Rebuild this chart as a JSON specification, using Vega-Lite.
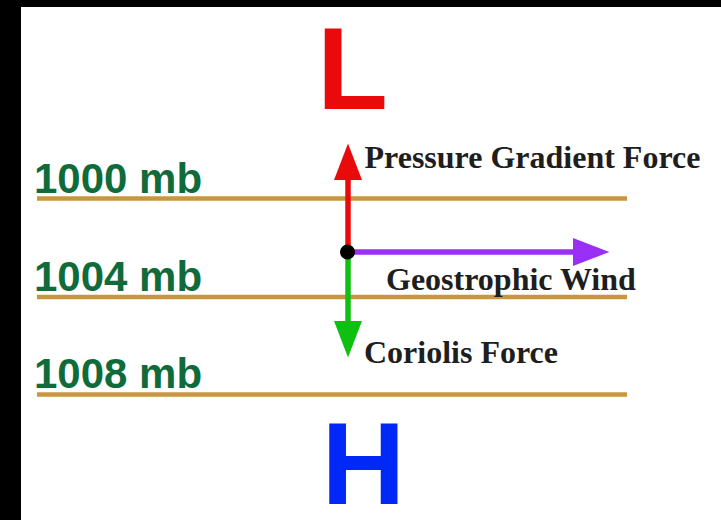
{
  "$schema": "https://vega.github.io/schema/vega-lite/v6.json",
  "autosize": {"type": "none"},
  "width": 700,
  "height": 513,
  "padding": {"left": 21, "top": 7, "right": 0, "bottom": 0},
  "background": "#000000",
  "config": {"view": {"fill": "#ffffff", "stroke": null}},
  "resolve": {"scale": {"color": "independent"}},
  "datasets": {
    "isobars": [
      {"pressure": "1000 mb", "x": 37, "x2": 627, "y": 198.5, "labelX": 34, "labelY": 192.5},
      {"pressure": "1004 mb", "x": 37, "x2": 627, "y": 297, "labelX": 34, "labelY": 290.5},
      {"pressure": "1008 mb", "x": 37, "x2": 627, "y": 394.5, "labelX": 34, "labelY": 388}
    ],
    "centers": [
      {"kind": "low", "text": "L", "x": 317, "y": 109},
      {"kind": "high", "text": "H", "x": 321.5, "y": 504}
    ],
    "forces": [
      {"force": "Pressure Gradient Force", "x": 348, "y": 252, "x2": 348, "y2": 180, "headX": 348, "headY": 180, "direction": 0, "labelX": 364.5, "labelY": 168},
      {"force": "Geostrophic Wind", "x": 348, "y": 252, "x2": 573, "y2": 252, "headX": 573, "headY": 252, "direction": 90, "labelX": 386, "labelY": 290},
      {"force": "Coriolis Force", "x": 348, "y": 252, "x2": 348, "y2": 321, "headX": 348, "headY": 321, "direction": 180, "labelX": 364, "labelY": 363}
    ],
    "parcel": [{"x": 347.5, "y": 252}]
  },
  "layer": [
    {
      "data": {"name": "isobars"},
      "mark": {"type": "rule", "color": "#c8963c", "strokeWidth": 4.5},
      "encoding": {
        "x": {"field": "x", "type": "quantitative", "scale": {"domain": [21, 721], "nice": false, "zero": false}, "axis": null},
        "x2": {"field": "x2"},
        "y": {"field": "y", "type": "quantitative", "scale": {"domain": [7, 520], "nice": false, "zero": false, "reverse": true}, "axis": null}
      }
    },
    {
      "data": {"name": "isobars"},
      "mark": {"type": "text", "font": "Liberation Sans", "fontWeight": "bold", "fontSize": 42, "align": "left", "baseline": "alphabetic", "color": "#0f6b3a"},
      "encoding": {
        "x": {"field": "labelX", "type": "quantitative"},
        "y": {"field": "labelY", "type": "quantitative"},
        "text": {"field": "pressure"}
      }
    },
    {
      "data": {"name": "centers"},
      "mark": {"type": "text", "font": "Liberation Sans", "fontWeight": "bold", "fontSize": 116, "align": "left", "baseline": "alphabetic"},
      "encoding": {
        "x": {"field": "x", "type": "quantitative"},
        "y": {"field": "y", "type": "quantitative"},
        "text": {"field": "text"},
        "color": {"field": "kind", "type": "nominal", "scale": {"domain": ["low", "high"], "range": ["#e90b0b", "#0228f8"]}, "legend": null}
      }
    },
    {
      "layer": [
        {
          "mark": {"type": "rule", "strokeWidth": 5.5},
          "encoding": {
            "x": {"field": "x", "type": "quantitative"},
            "y": {"field": "y", "type": "quantitative"},
            "x2": {"field": "x2"},
            "y2": {"field": "y2"},
            "color": {"field": "force", "type": "nominal", "scale": {"domain": ["Pressure Gradient Force", "Geostrophic Wind", "Coriolis Force"], "range": ["#e90b0b", "#9a30f5", "#10c010"]}, "legend": null}
          }
        },
        {
          "mark": {"type": "point", "filled": true, "opacity": 1, "shape": "M0,-2.6L1,0L-1,0Z", "size": 784, "strokeWidth": 0},
          "encoding": {
            "x": {"field": "headX", "type": "quantitative"},
            "y": {"field": "headY", "type": "quantitative"},
            "angle": {"field": "direction", "type": "quantitative", "scale": {"domain": [0, 360], "range": [0, 360]}},
            "color": {"field": "force", "type": "nominal", "scale": {"domain": ["Pressure Gradient Force", "Geostrophic Wind", "Coriolis Force"], "range": ["#e90b0b", "#9a30f5", "#10c010"]}, "legend": null}
          }
        }
      ],
      "data": {"name": "forces"}
    },
    {
      "data": {"name": "parcel"},
      "mark": {"type": "circle", "size": 227, "opacity": 1, "color": "#000000"},
      "encoding": {
        "x": {"field": "x", "type": "quantitative"},
        "y": {"field": "y", "type": "quantitative"}
      }
    },
    {
      "data": {"name": "forces"},
      "mark": {"type": "text", "font": "Liberation Serif", "fontWeight": "bold", "fontSize": 32, "align": "left", "baseline": "alphabetic", "color": "#1e1e1e"},
      "encoding": {
        "x": {"field": "labelX", "type": "quantitative"},
        "y": {"field": "labelY", "type": "quantitative"},
        "text": {"field": "force"}
      }
    }
  ]
}
